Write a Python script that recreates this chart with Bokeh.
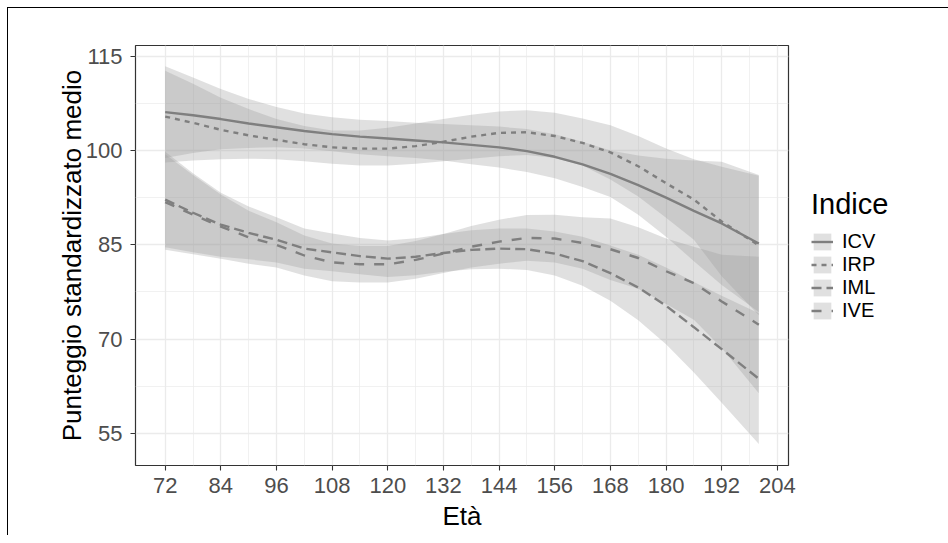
from bokeh.plotting import figure
from bokeh.models import Legend, LegendItem, FixedTicker, ColumnDataSource
from bokeh.embed import file_html
from bokeh.resources import INLINE

# ---- data ----
eta = [72, 78, 84, 90, 96, 102, 108, 114, 120, 126, 132, 138, 144, 150, 156, 162, 168, 174, 180, 186, 192, 200]

icv = [106.1, 105.6, 105.0, 104.3, 103.7, 103.1, 102.6, 102.2, 101.9, 101.6, 101.3, 100.9, 100.5, 99.9, 99.0, 97.8, 96.3, 94.5, 92.5, 90.4, 88.4, 85.2]
icv_lo = [98.8, 99.6, 100.2, 100.4, 100.5, 100.3, 99.9, 99.4, 99.1, 98.8, 98.4, 97.8, 97.3, 96.6, 95.6, 94.2, 92.6, 89.8, 86.3, 82.4, 78.6, 74.3]
icv_hi = [113.4, 111.6, 109.8, 108.2, 106.9, 105.9, 105.3, 104.9, 104.7, 104.4, 104.2, 104.0, 103.8, 103.4, 102.6, 101.4, 100.0, 99.2, 98.7, 98.4, 98.2, 96.1]

irp = [105.4, 104.4, 103.3, 102.4, 101.7, 101.0, 100.5, 100.3, 100.3, 100.7, 101.4, 102.2, 102.8, 102.9, 102.3, 101.2, 99.7, 97.5, 94.8, 92.2, 88.7, 84.9]
irp_lo = [98.1, 98.4, 98.6, 98.7, 98.6, 98.3, 97.9, 97.6, 97.6, 97.9, 98.3, 98.7, 99.1, 99.3, 98.8, 97.6, 95.4, 92.7, 89.3, 85.8, 80.0, 73.8]
irp_hi = [112.7, 110.6, 108.4, 106.6, 105.0, 103.9, 103.2, 103.2, 103.6, 104.3, 105.0, 105.7, 106.2, 106.4, 106.0, 105.1, 104.0, 102.3, 100.3, 98.6, 97.4, 96.0]

iml = [92.2, 90.1, 88.2, 86.9, 85.8, 84.4, 83.8, 83.2, 82.8, 83.1, 83.7, 84.2, 84.4, 84.3, 83.6, 82.4, 80.5, 78.2, 75.3, 71.9, 68.4, 63.7]
iml_lo = [84.6, 83.8, 83.1, 82.7, 82.2, 81.2, 80.8, 80.3, 79.9, 80.15, 80.7, 81.1, 81.2, 81.0, 80.1, 78.5, 76.1, 73.0, 69.2, 64.7, 59.9, 53.3]
iml_hi = [99.8, 96.4, 93.3, 91.1, 89.4, 87.6, 86.8, 86.1, 85.7, 86.05, 86.7, 87.3, 87.6, 87.6, 87.1, 86.3, 84.9, 83.4, 81.4, 79.1, 76.9, 74.1]

ive = [91.8, 89.8, 87.9, 86.2, 85.0, 83.3, 82.2, 81.9, 81.9, 82.6, 83.6, 84.7, 85.5, 86.1, 86.0, 85.3, 84.3, 82.9, 80.8, 78.9, 76.0, 72.3]
ive_lo = [84.2, 83.5, 82.8, 82.0, 81.4, 80.1, 79.2, 79.0, 79.0, 79.6, 80.5, 81.4, 82.0, 82.45, 82.2, 81.2, 79.4, 78.0, 75.6, 73.1, 68.6, 61.4]
ive_hi = [99.4, 96.1, 93.0, 90.4, 88.6, 86.5, 85.2, 84.8, 84.8, 85.6, 86.7, 88.0, 89.0, 89.75, 89.8, 89.4, 89.2, 87.8, 86.0, 84.7, 83.4, 83.1]

series_names = ["ICV", "IRP", "IML", "IVE"]
series_dash = ["solid", "5 5", "10 5", "10 10"]

x_ticks = [72, 84, 96, 108, 120, 132, 144, 156, 168, 180, 192, 204]
x_minor = [78, 90, 102, 114, 126, 138, 150, 162, 174, 186, 198]
y_ticks = [55, 70, 85, 100, 115]
y_minor = [62.5, 77.5, 92.5, 107.5]

FONT = "Liberation Sans"

p = figure(frame_width=653, frame_height=420,
           x_range=(65.6, 206.4), y_range=(49.9, 116.7),
           output_backend="svg", toolbar_location=None,
           min_border_left=127, min_border_top=37, min_border_right=152, min_border_bottom=70,
           background_fill_color="white", border_fill_color="white")
p.styles = {"margin-left": "7px", "margin-top": "7px",
            "border-left": "1px solid black", "border-top": "1px solid black"}

p.outline_line_color = "#333333"
p.outline_line_width = 1.2

p.xaxis.ticker = FixedTicker(ticks=x_ticks, minor_ticks=x_minor)
p.yaxis.ticker = FixedTicker(ticks=y_ticks, minor_ticks=y_minor)
for g in (p.xgrid, p.ygrid):
    g.grid_line_color = "#EBEBEB"
    g.grid_line_width = 1.3
    g.minor_grid_line_color = "#EBEBEB"
    g.minor_grid_line_width = 0.7

for ax in (p.xaxis, p.yaxis):
    ax.axis_line_color = None
    ax.major_tick_line_color = "#333333"
    ax.major_tick_line_width = 1.1
    ax.major_tick_out = 5
    ax.major_tick_in = 0
    ax.minor_tick_out = 0
    ax.minor_tick_in = 0
    ax.major_label_text_font = FONT
    ax.major_label_text_font_size = "22px"
    ax.major_label_text_color = "#4D4D4D"
    ax.axis_label_text_font = FONT
    ax.axis_label_text_font_size = "26px"
    ax.axis_label_text_font_style = "normal"
    ax.axis_label_text_color = "black"

p.xaxis.axis_label = "Età"
p.yaxis.axis_label = "Punteggio standardizzato medio"
p.xaxis.major_label_standoff = 7
p.yaxis.major_label_standoff = 8
p.xaxis.axis_label_standoff = 5
p.yaxis.axis_label_standoff = -4

src = ColumnDataSource(dict(x=eta, ICV=icv, ICV_lo=icv_lo, ICV_hi=icv_hi,
                            IRP=irp, IRP_lo=irp_lo, IRP_hi=irp_hi,
                            IML=iml, IML_lo=iml_lo, IML_hi=iml_hi,
                            IVE=ive, IVE_lo=ive_lo, IVE_hi=ive_hi))

bands = {}
for name in series_names:
    bands[name] = p.varea(x="x", y1=name + "_lo", y2=name + "_hi", source=src,
                          fill_color="#999999", fill_alpha=0.3)
lines = {}
for name, dash in zip(series_names, series_dash):
    lines[name] = p.line(x="x", y=name, source=src, line_color="#7F7F7F",
                         line_width=2.4, line_dash=dash)

items = [LegendItem(label=n, renderers=[bands[n], lines[n]]) for n in series_names]
legend = Legend(items=items, location="left", title="Indice",
                title_text_font=FONT, title_text_font_size="29px", title_text_color="black",
                title_text_font_style="normal", title_standoff=9,
                label_text_font=FONT, label_text_font_size="20px", label_text_color="black",
                glyph_width=22, glyph_height=21, label_standoff=9, label_height=21,
                spacing=0, padding=0, margin=23,
                border_line_color=None, background_fill_alpha=0)
p.add_layout(legend, "right")

open("out.html", "w").write(file_html(p, INLINE))
